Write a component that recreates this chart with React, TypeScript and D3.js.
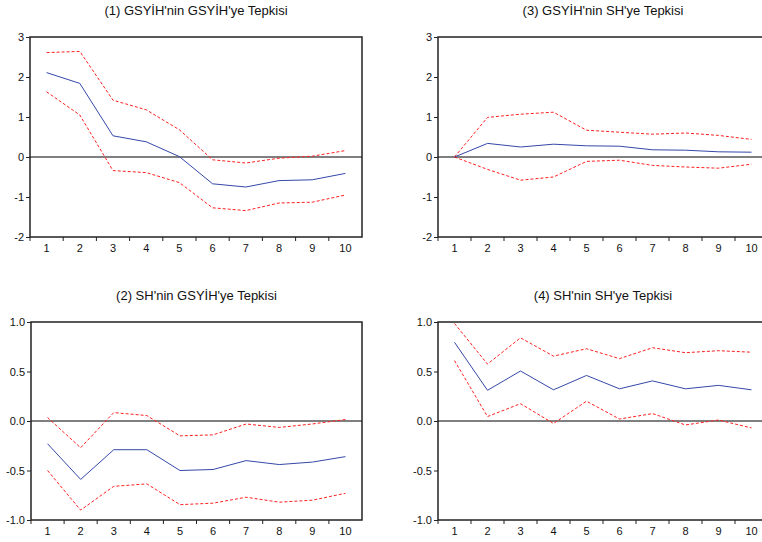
import React, { useEffect, useRef } from "react";
import * as d3 from "d3";

const periods = [1, 2, 3, 4, 5, 6, 7, 8, 9, 10];

// (1) GSYİH -> GSYİH
const p1Resp = [2.11, 1.84, 0.53, 0.38, 0.01, -0.67, -0.75, -0.59, -0.57, -0.41];
const p1Up = [2.61, 2.64, 1.42, 1.18, 0.68, -0.07, -0.15, -0.03, 0.02, 0.16];
const p1Lo = [1.63, 1.05, -0.34, -0.39, -0.64, -1.27, -1.34, -1.15, -1.13, -0.95];

// (3) GSYİH -> SH
const p3Resp = [0, 0.34, 0.25, 0.32, 0.28, 0.27, 0.18, 0.17, 0.13, 0.12];
const p3Up = [0, 0.99, 1.07, 1.12, 0.67, 0.62, 0.57, 0.6, 0.54, 0.44];
const p3Lo = [0, -0.31, -0.58, -0.5, -0.11, -0.08, -0.21, -0.25, -0.28, -0.18];

// (2) SH -> GSYİH
const p2Resp = [-0.23, -0.59, -0.29, -0.29, -0.5, -0.49, -0.4, -0.44, -0.415, -0.36];
const p2Up = [0.035, -0.27, 0.085, 0.055, -0.15, -0.14, -0.03, -0.065, -0.03, 0.015];
const p2Lo = [-0.5, -0.9, -0.66, -0.635, -0.845, -0.83, -0.77, -0.82, -0.8, -0.73];

// (4) SH -> SH
const p4Resp = [0.795, 0.31, 0.505, 0.315, 0.46, 0.325, 0.405, 0.325, 0.36, 0.315];
const p4Up = [0.985, 0.575, 0.84, 0.655, 0.73, 0.63, 0.74, 0.69, 0.71, 0.695];
const p4Lo = [0.61, 0.045, 0.175, -0.025, 0.2, 0.02, 0.075, -0.04, 0.01, -0.07];

const yTicksA = [-2, -1, 0, 1, 2, 3];
const yTicksB = [-1.0, -0.5, 0.0, 0.5, 1.0];

const panels = [
  { title: "(1) GSYİH'nin GSYİH'ye Tepkisi", resp: p1Resp, up: p1Up, lo: p1Lo, ticks: yTicksA, fmt: "d", box: [30, 362, 37, 237] },
  { title: "(3) GSYİH'nin SH'ye Tepkisi", resp: p3Resp, up: p3Up, lo: p3Lo, ticks: yTicksA, fmt: "d", box: [438, 768, 37, 237] },
  { title: "(2) SH'nin GSYİH'ye Tepkisi", resp: p2Resp, up: p2Up, lo: p2Lo, ticks: yTicksB, fmt: ".1f", box: [31, 362, 322, 520] },
  { title: "(4) SH'nin SH'ye Tepkisi", resp: p4Resp, up: p4Up, lo: p4Lo, ticks: yTicksB, fmt: ".1f", box: [438, 768, 322, 520] },
];

export default function App() {
  const ref = useRef<SVGSVGElement>(null);

  useEffect(() => {
    const svg = d3.select(ref.current);
    svg.selectAll("*").remove();
    const font = "'Liberation Sans', Arial, sans-serif";

    panels.forEach(p => {
      const [l, r, t, b] = p.box;
      const x = d3.scaleBand<number>().domain(periods).range([l, r]).padding(0);
      const yMin = p.ticks[0];
      const yMax = p.ticks[p.ticks.length - 1];
      const y = d3.scaleLinear().domain([yMin, yMax]).range([b, t]);
      const g = svg.append("g");
      const fmt = d3.format(p.fmt);

      // title
      g.append("text")
        .attr("x", (l + r) / 2)
        .attr("y", t - 22)
        .attr("text-anchor", "middle")
        .attr("font-family", font)
        .attr("font-size", 13)
        .attr("fill", "#111")
        .text(p.title);

      // zero line
      g.append("line")
        .attr("x1", l).attr("x2", r)
        .attr("y1", y(0)).attr("y2", y(0))
        .attr("stroke", "#000").attr("stroke-width", 1);

      const line = d3.line<number>()
        .x((d, i) => x(periods[i])! + x.bandwidth() / 2)
        .y(d => y(d));

      [p.up, p.lo].forEach(arr => {
        g.append("path")
          .datum(arr)
          .attr("fill", "none")
          .attr("stroke", "#ff2020")
          .attr("stroke-width", 1)
          .attr("stroke-dasharray", "3,2")
          .attr("d", line);
      });

      g.append("path")
        .datum(p.resp)
        .attr("fill", "none")
        .attr("stroke", "#3548a8")
        .attr("stroke-width", 1)
        .attr("d", line);

      // frame
      g.append("rect")
        .attr("x", l).attr("y", t)
        .attr("width", r - l).attr("height", b - t)
        .attr("fill", "none")
        .attr("stroke", "#222")
        .attr("stroke-width", 1.5);

      // y axis (hyphen minus like the original)
      const yAxis = g.append("g")
        .attr("transform", `translate(${l},0)`)
        .call(d3.axisLeft(y).tickValues(p.ticks).tickSize(4).tickPadding(2)
          .tickFormat((d: any) => fmt(d).replace("−", "-")));
      yAxis.select(".domain").remove();
      yAxis.selectAll("line").attr("stroke", "#222");
      yAxis.selectAll("text").attr("font-family", font).attr("font-size", 11).attr("fill", "#111");

      // x axis: labels at band centres, ticks at band edges
      const xAxis = g.append("g")
        .attr("transform", `translate(0,${b})`)
        .call(d3.axisBottom(x).tickSize(0).tickPadding(7));
      xAxis.select(".domain").remove();
      xAxis.selectAll("text").attr("font-family", font).attr("font-size", 11).attr("fill", "#111");

      g.selectAll(".edge")
        .data(periods)
        .enter()
        .append("line")
        .attr("x1", d => x(d)!).attr("x2", d => x(d)!)
        .attr("y1", b).attr("y2", b + 4)
        .attr("stroke", "#222");
    });
  }, []);

  return (
    <div style={{ position: "absolute", left: 0, top: 0, width: 762, height: 542, background: "#fff", overflow: "hidden" }}>
      <svg ref={ref} width={762} height={542} />
    </div>
  );
}
